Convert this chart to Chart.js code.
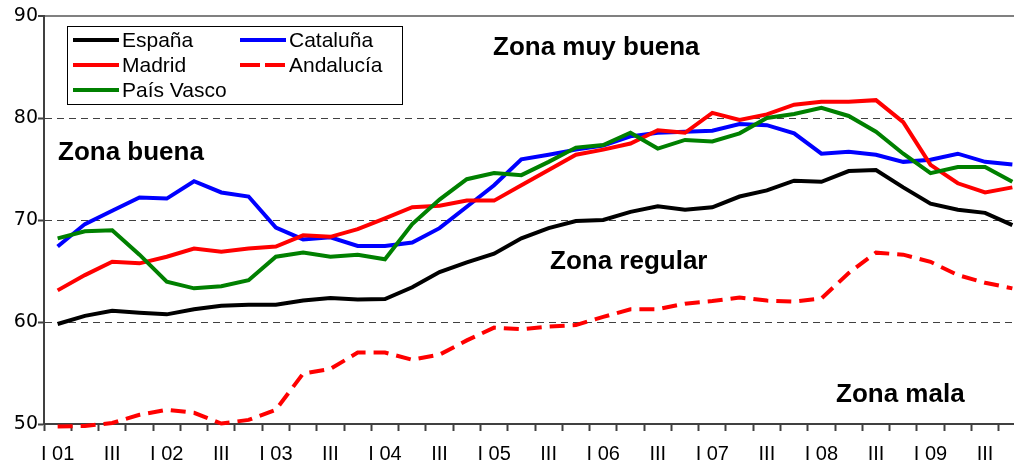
<!DOCTYPE html>
<html>
<head>
<meta charset="utf-8">
<script src="https://cdn.jsdelivr.net/npm/chart.js@4.4.0/dist/chart.umd.min.js"></script>
<style>
  html, body { margin: 0; padding: 0; background: #fff; overflow: hidden; }
  #wrap { width: 1026px; height: 466px; }
</style>
</head>
<body>
<div id="wrap"><canvas id="chart" width="1026" height="466"></canvas></div>
<script>
// quarters 2001 - 2009, only I and III are printed on the axis
const quarters = [
  "I 01", "II", "III", "IV", "I 02", "II", "III", "IV", "I 03", "II", "III", "IV",
  "I 04", "II", "III", "IV", "I 05", "II", "III", "IV", "I 06", "II", "III", "IV",
  "I 07", "II", "III", "IV", "I 08", "II", "III", "IV", "I 09", "II", "III", "IV"
];
const yTicks = [50, 60, 70, 80, 90];

const espana = [59.8, 60.6, 61.1, 60.9, 60.75, 61.25, 61.6, 61.7, 61.7, 62.1, 62.35, 62.2,
  62.25, 63.4, 64.9, 65.85, 66.7, 68.2, 69.2, 69.9, 70.0, 70.8, 71.35, 71.0,
  71.25, 72.3, 72.9, 73.85, 73.75, 74.8, 74.9, 73.2, 71.6, 71.0, 70.7, 69.5];
const cataluna = [67.4, 69.6, 70.9, 72.2, 72.1, 73.8, 72.7, 72.3, 69.25, 68.1, 68.3, 67.45,
  67.45, 67.8, 69.2, 71.3, 73.4, 75.95, 76.4, 76.9, 77.3, 78.2, 78.55, 78.65,
  78.75, 79.4, 79.3, 78.5, 76.5, 76.7, 76.4, 75.7, 75.9, 76.5, 75.7, 75.45];
const madrid = [63.1, 64.6, 65.9, 65.75, 66.4, 67.2, 66.9, 67.2, 67.4, 68.5, 68.35, 69.1,
  70.15, 71.25, 71.4, 71.9, 71.9, 73.4, 74.9, 76.4, 76.9, 77.5, 78.8, 78.55,
  80.5, 79.8, 80.35, 81.3, 81.6, 81.6, 81.75, 79.6, 75.4, 73.6, 72.7, 73.2];
const andalucia = [49.75, 49.8, 50.1, 50.9, 51.4, 51.1, 50.05, 50.4, 51.4, 54.95, 55.4, 57.0,
  57.0, 56.3, 56.8, 58.2, 59.45, 59.3, 59.55, 59.7, 60.5, 61.25, 61.25, 61.8,
  62.05, 62.4, 62.1, 62.0, 62.3, 64.8, 66.8, 66.6, 65.9, 64.6, 63.85, 63.3];
const paisVasco = [68.2, 68.9, 69.0, 66.6, 63.95, 63.3, 63.5, 64.1, 66.4, 66.8, 66.4, 66.6,
  66.15, 69.6, 72.0, 74.0, 74.6, 74.4, 75.7, 77.1, 77.35, 78.55, 77.0, 77.85,
  77.7, 78.5, 80.0, 80.4, 81.0, 80.2, 78.65, 76.5, 74.6, 75.2, 75.2, 73.75];

const zones = [
  { text: "Zona muy buena", x: 493, y: 55 },
  { text: "Zona buena", x: 58, y: 160 },
  { text: "Zona regular", x: 550, y: 269 },
  { text: "Zona mala", x: 836, y: 402 }
];

function serie(label, data, color, order, dash) {
  return {
    label: label,
    data: data,
    borderColor: color,
    backgroundColor: color,
    borderWidth: 4,
    borderDash: dash || [],
    pointRadius: 0,
    tension: 0,
    fill: false,
    clip: 6,
    order: order
  };
}

// legend box drawn inside the plot, two columns
const boxLegend = {
  id: "boxLegend",
  afterDatasetsDraw(chart) {
    const ctx = chart.ctx;
    const sets = chart.data.datasets;
    ctx.save();
    ctx.fillStyle = "#fff";
    ctx.fillRect(67, 26, 335, 78);
    ctx.strokeStyle = "#000";
    ctx.lineWidth = 1;
    ctx.strokeRect(67.5, 26.5, 335, 78);
    ctx.font = "21px 'Liberation Sans', Arial, sans-serif";
    ctx.textBaseline = "middle";
    ctx.textAlign = "left";
    sets.forEach((ds, i) => {
      const col = i % 2;
      const row = Math.floor(i / 2);
      const x0 = col === 0 ? 73 : 240;
      const y = 40 + row * 25;
      ctx.strokeStyle = ds.borderColor;
      ctx.lineWidth = 4;
      ctx.setLineDash(ds.borderDash.length ? [20, 5] : []);
      ctx.beginPath();
      ctx.moveTo(x0, y);
      ctx.lineTo(x0 + 46, y);
      ctx.stroke();
      ctx.setLineDash([]);
      ctx.fillStyle = "#000";
      ctx.fillText(ds.label, x0 + 49, y + 1);
    });
    ctx.font = "bold 26px 'Liberation Sans', Arial, sans-serif";
    ctx.textBaseline = "alphabetic";
    zones.forEach(z => ctx.fillText(z.text, z.x, z.y));
    ctx.restore();
  }
};

new Chart(document.getElementById("chart"), {
  type: "line",
  data: {
    labels: quarters,
    datasets: [
      serie("España", espana, "#000000", 4),
      serie("Cataluña", cataluna, "#0000ff", 3),
      serie("Madrid", madrid, "#ff0000", 2),
      serie("Andalucía", andalucia, "#ff0000", 1, [15, 8]),
      serie("País Vasco", paisVasco, "#008000", 0)
    ]
  },
  options: {
    responsive: false,
    animation: false,
    layout: { padding: { top: 16, left: 0, right: 0, bottom: 0 } },
    plugins: {
      legend: { display: false },
      tooltip: { enabled: false }
    },
    scales: {
      x: {
        offset: true,
        afterFit: (scale) => { scale.height = 42; },
        grid: {
          offset: true,
          drawOnChartArea: false,
          drawTicks: true,
          tickLength: 7,
          tickColor: "#404040",
          tickWidth: 2
        },
        border: { color: "#404040", width: 2 },
        ticks: {
          autoSkip: false,
          maxRotation: 0,
          padding: 11,
          color: "#000",
          font: { family: "'Liberation Sans', Arial, sans-serif", size: 20 },
          callback: (v, i) => (i % 2 === 0 ? quarters[i] : "")
        }
      },
      y: {
        min: 50,
        max: 90,
        afterFit: (scale) => { scale.width = 44; },
        afterBuildTicks: (scale) => { scale.ticks = yTicks.map(v => ({ value: v })); },
        grid: {
          color: (c) => (c.tick && c.tick.value === 90 ? "#808080" : c.tick && c.tick.value === 50 ? "rgba(0,0,0,0)" : "#404040"),
          lineWidth: (c) => (c.tick && c.tick.value === 90 ? 2 : 1),
          drawTicks: true,
          tickLength: 6,
          tickColor: "#404040",
          tickWidth: 2
        },
        border: {
          color: "#404040",
          width: 2,
          dash: (c) => (c.tick && c.tick.value === 90 ? [] : [7, 5])
        },
        ticks: {
          padding: 0,
          color: "#000",
          font: { family: "'DejaVu Sans', sans-serif", size: 19 }
        }
      }
    }
  },
  plugins: [boxLegend]
});
</script>
</body>
</html>
